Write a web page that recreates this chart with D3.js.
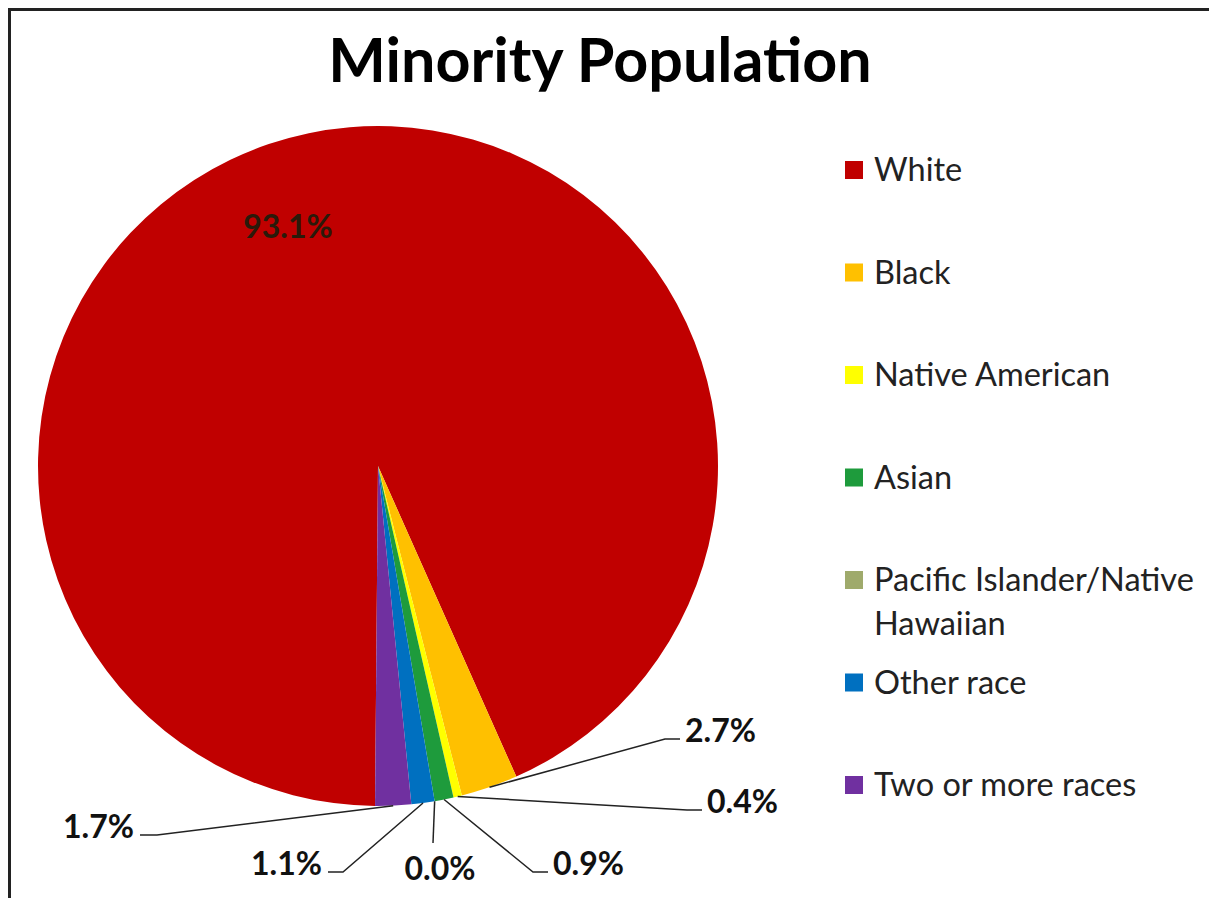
<!DOCTYPE html>
<html>
<head>
<meta charset="utf-8">
<script src="https://cdn.jsdelivr.net/npm/d3@7"></script>
<style>
  html, body { margin: 0; padding: 0; background: #fff; overflow: hidden; }
  svg { display: block; }
</style>
</head>
<body>
<script>
'use strict';

// Data
const categories = ["White", "Black", "Native American", "Asian",
                    "Pacific Islander/Native Hawaiian", "Other race", "Two or more races"];
const values = [93.1, 2.7, 0.4, 0.9, 0.0, 1.1, 1.7];
const valueLabels = ["93.1%", "2.7%", "0.4%", "0.9%", "0.0%", "1.1%", "1.7%"];
const legendLines = [["White"], ["Black"], ["Native American"], ["Asian"],
                     ["Pacific Islander/Native", "Hawaiian"], ["Other race"], ["Two or more races"]];
const colors = ["#C00000", "#FFC000", "#FFFF00", "#1E9B3C", "#9FAA6C", "#0070C0", "#7030A0"];

// Label layout, relative to the pie centre: [elbow x, elbow y, end x, end y, side]
const labelLayout = [
  null,
  [287, 273, 302, 273, "start"],
  [309, 344, 324, 344, "start"],
  [155, 406, 170, 406, "start"],
  [55, 377, 55, 377, "middle"],
  [-35, 406, -50, 406, "end"],
  [-221, 369, -238, 369, "end"]
];
const insideLabel = [-90, -239];

const width = 1209, height = 898;
const cx = 378, cy = 466, radius = 340;
const font = "Lato, 'Open Sans', sans-serif";

const svg = d3.select("body").append("svg")
    .attr("width", width)
    .attr("height", height);

// chart frame
svg.append("rect")
    .attr("x", 9.5).attr("y", 9.5)
    .attr("width", 1400).attr("height", 1200)
    .style("fill", "none")
    .style("stroke", "#222")
    .style("stroke-width", 3);

// Title
svg.append("text")
    .attr("x", 600).attr("y", 82)
    .attr("text-anchor", "middle")
    .style("font-family", font)
    .style("font-weight", "bold")
    .style("font-size", "61px")
    .style("fill", "#000")
    .text("Minority Population");

const data = categories.map((c, i) => ({ name: c, value: values[i], i: i }));

const start = 180.5 * Math.PI / 180;
const pie = d3.pie()
    .value(d => d.value)
    .sort(null)
    .startAngle(start)
    .endAngle(start + 2 * Math.PI);

const arc = d3.arc().innerRadius(0).outerRadius(radius);
const arcs = pie(data);

const g = svg.append("g").attr("transform", "translate(" + cx + "," + cy + ")");

g.selectAll("path.slice")
    .data(arcs)
    .enter()
    .append("path")
    .attr("class", "slice")
    .attr("d", arc)
    .style("fill", d => colors[d.data.i]);

// leader lines
const edge = d => {
  const a = (d.startAngle + d.endAngle) / 2;
  return [radius * Math.sin(a), -radius * Math.cos(a)];
};

arcs.forEach(d => {
  const L = labelLayout[d.data.i];
  if (!L) return;
  const p = edge(d);
  g.append("path")
      .attr("d", d3.line()([p, [L[0], L[1]], [L[2], L[3]]]))
      .style("fill", "none")
      .style("stroke", "#222")
      .style("stroke-width", 1.5);
  let tx = L[2], ty = L[3] + 3;
  if (L[4] === "start") tx += 5;
  if (L[4] === "end") tx -= 6;
  if (L[4] === "middle") { tx += 7; ty = L[3] + 37; }
  g.append("text")
      .attr("x", tx).attr("y", ty)
      .attr("text-anchor", L[4])
      .style("font-family", font)
      .style("font-weight", "bold")
      .style("font-size", "32px")
      .style("fill", "#111")
      .text(valueLabels[d.data.i]);
});

g.append("text")
    .attr("x", insideLabel[0]).attr("y", insideLabel[1] + 11)
    .attr("text-anchor", "middle")
    .style("font-family", font)
    .style("font-weight", "bold")
    .style("font-size", "32px")
    .style("fill", "#2a1a0a")
    .text(valueLabels[0]);

// Legend
const legendY = d3.scalePoint().domain(d3.range(categories.length)).range([170, 785]);
const legend = svg.append("g");

legendLines.forEach((lines, i) => {
  const y = legendY(i);
  legend.append("rect")
      .attr("x", 845).attr("y", y - 9)
      .attr("width", 18).attr("height", 18)
      .style("fill", colors[i]);
  lines.forEach((t, k) => {
    legend.append("text")
        .attr("x", 874).attr("y", y + 11 + k * 44)
        .style("font-family", font)
        .style("font-size", "32.5px")
        .style("fill", "#222")
        .text(t);
  });
});
</script>
</body>
</html>
